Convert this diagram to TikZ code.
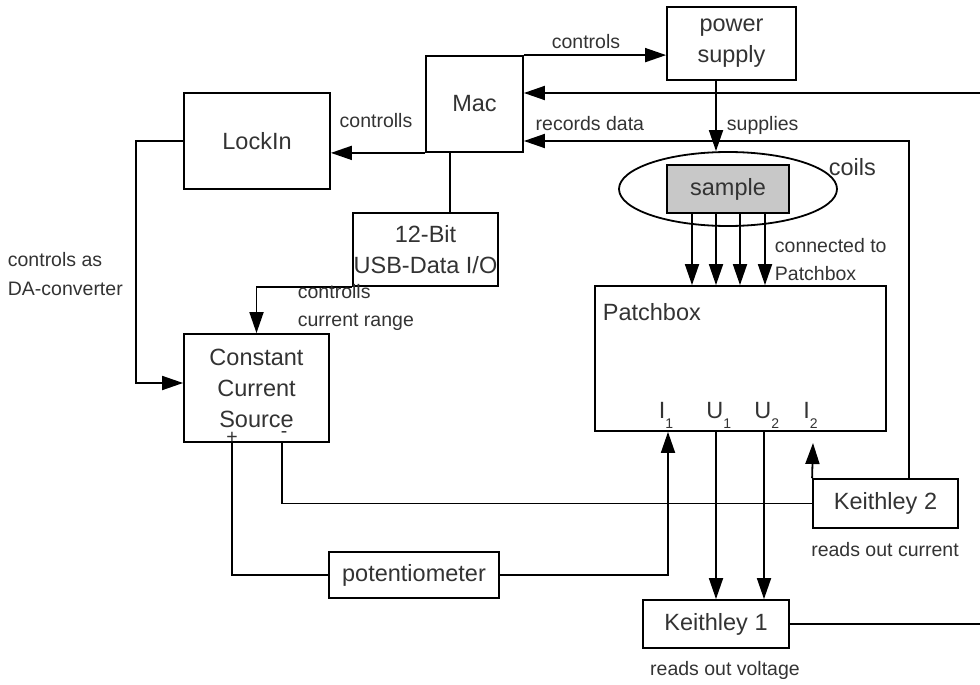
\documentclass[tikz,border=0pt]{standalone}
\usepackage{fontspec}
\setmainfont{Liberation Sans}
\usetikzlibrary{arrows.meta,shapes.geometric}
\definecolor{labelgray}{HTML}{333333}
\definecolor{samplegray}{HTML}{C8C8C8}
\newcommand\bigsz{\fontsize{23.5}{31}\selectfont}
\newcommand\smallsz{\fontsize{19.5}{28.5}\selectfont}
\newcommand\subsz{\fontsize{14}{14}\selectfont}
\begin{document}
\begin{tikzpicture}[x=1pt,y=-1pt,line width=1.8pt,
  box/.style={draw, fill=white, inner sep=0pt, text=labelgray, align=center, font=\bigsz},
  lbl/.style={text=labelgray, inner sep=0pt, align=left, font=\smallsz},
  biglbl/.style={text=labelgray, inner sep=0pt, font=\bigsz},
  arr/.style={-{Triangle[length=21pt 0 0,width=14pt 0 0]}}]
\useasboundingbox (0,0) rectangle (980,685);

% instruments and boxes
\node[box, minimum width=129pt, minimum height=73pt] (ps)   at (731.5,43.5) {power\\supply};
\node[box, minimum width=97pt,  minimum height=96pt] (mac)  at (474.5,104)  {Mac};
\node[box, minimum width=146pt, minimum height=96pt] (lock) at (257,141)    {LockIn};
\node[box, minimum width=145pt, minimum height=73pt] (usb)  at (425.5,249.5){12-Bit\\USB-Data I/O};
\node[box, minimum width=145pt, minimum height=108pt] (ccs) at (256.5,388)  {Constant\\Current\\Source};
\node[box, minimum width=291pt, minimum height=145pt] (pb)  at (740.5,358.5) {};
\node[draw, ellipse, inner sep=0pt, minimum width=218pt, minimum height=74pt] (coils) at (728,189) {};
\node[box, fill=samplegray, minimum width=122pt, minimum height=48pt] (sample) at (728,189) {sample};
\node[box, minimum width=145pt, minimum height=49pt] (k2)  at (885.5,503.5) {Keithley 2};
\node[box, minimum width=146pt, minimum height=48pt] (k1)  at (716,624)   {Keithley 1};
\node[box, minimum width=170pt, minimum height=46pt] (pot) at (414,575)   {potentiometer};

% wire positions
\coordinate (s1) at (692,0);
\coordinate (s2) at (716,0);
\coordinate (s3) at (740,0);
\coordinate (s4) at (765,0);
\coordinate (u2) at (764,0);
\coordinate (i1) at (668,0);
\coordinate (mu) at (450,0);
\coordinate (pl) at (232,0);
\coordinate (mi) at (282,0);
\coordinate (dabend) at (136,0);
\coordinate (rd) at (909,141);
\coordinate (rin) at (980,93);
\coordinate (rout) at (980,624);
\coordinate (i2tip) at (813,443);

% connections
\draw[arr] (mac.north east) -- (mac.north east -| ps.west);
\draw[arr] (rin) -- (rin -| mac.east);
\draw[arr] (k2.north -| rd) -- (rd) -- (rd -| mac.east);
\draw[arr] (ps.south -| s2) -- (coils.north -| s2);
\foreach \p in {s1,s2,s3,s4}
  \draw[arr] (sample.south -| \p) -- (pb.north -| \p);
\draw[arr] (mac.south west) -- (mac.south west -| lock.east);
\draw (mac.south -| mu) -- (usb.north -| mu);
\draw[arr] (usb.south west) -| (ccs.north);
\draw[arr] (lock.west) -- (lock.west -| dabend) |- ([yshift=5pt]ccs.west);
\draw (ccs.south -| pl) |- (pot.west);
\draw[arr] (pot.east) -| (pb.south -| i1);
\draw (ccs.south -| mi) |- (k2.west);
\draw[arr] (pb.south -| s2) -- (k1.north -| s2);
\draw[arr] (pb.south -| u2) -- (k1.north -| u2);
\draw[arr] (k2.north west) -- (i2tip);
\draw (k1.east) -- (rout);

% labels
\node[lbl] (lctrl)  at (586,42)  {controls};
\node[lbl, anchor=east] (lrec) at (645,124) {records data};
\node[lbl, anchor=west] (lsup) at (726,125) {supplies};
\node[biglbl, anchor=west] (lcoils) at (828,167) {coils};
\node[lbl, anchor=west] (lconn) at (774,259.5) {connected to\\Patchbox};
\node[lbl] (lctrl2) at (376,121) {controlls};
\node[lbl, anchor=west] (lda) at (7,274) {controls as\\DA-converter};
\node[lbl, anchor=west] (lrange) at (297,307.5) {controlls\\current range};
\node[biglbl, anchor=west] (lpb) at (602,312) {Patchbox};
\node[biglbl, anchor=base west] (li1) at (658,418)   {I\raisebox{-10pt}{\subsz 1}};
\node[biglbl, anchor=base west] (lu1) at (705.5,418) {U\raisebox{-10pt}{\subsz 1}};
\node[biglbl, anchor=base west] (lu2) at (753.5,418) {U\raisebox{-10pt}{\subsz 2}};
\node[biglbl, anchor=base west] (li2) at (802.5,418) {I\raisebox{-10pt}{\subsz 2}};
\node[lbl] (lplus)  at (232,438) {+};
\node[lbl] (lminus) at (284,435) {-};
\node[lbl] (lcur) at (885,550) {reads out current};
\node[lbl] (lvolt) at (725,670) {reads out voltage};
\end{tikzpicture}
\end{document}
